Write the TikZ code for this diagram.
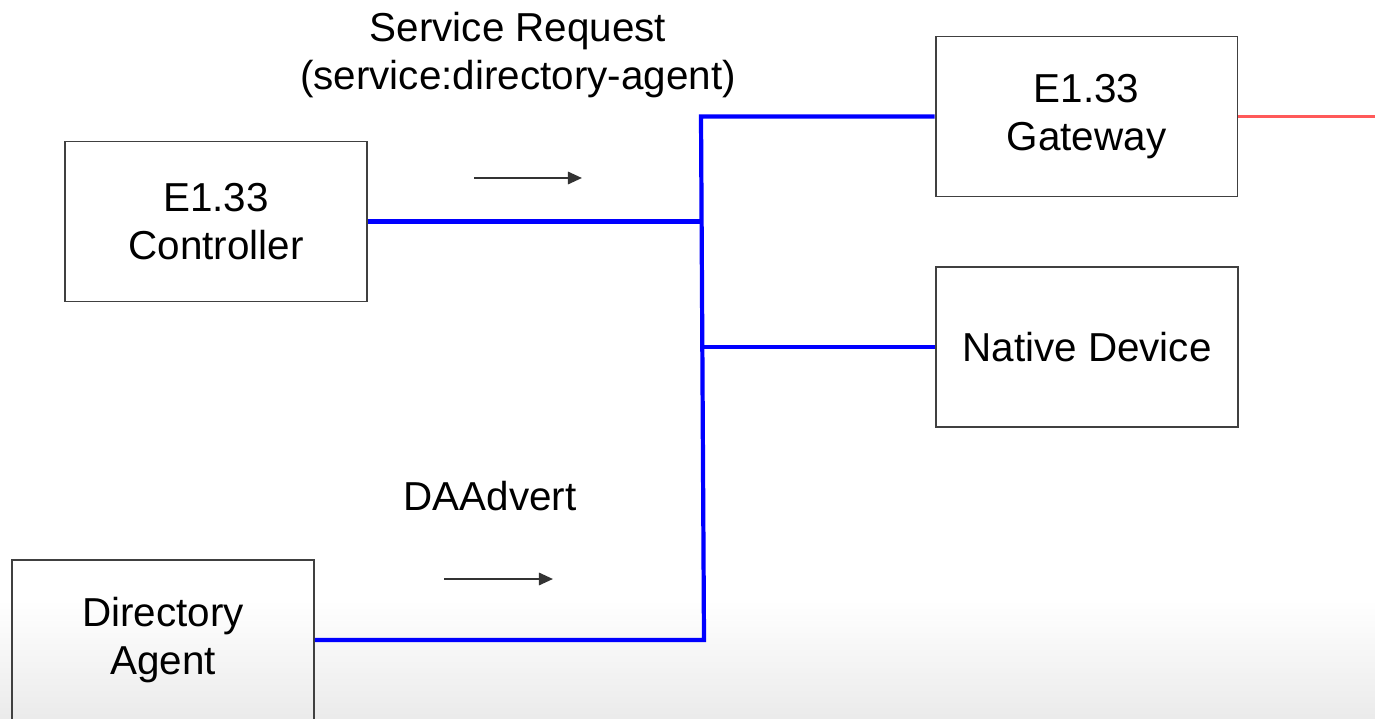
\documentclass[tikz,border=0pt]{standalone}
\usepackage{fontspec}
\setmainfont{Liberation Sans}
\usetikzlibrary{arrows.meta,positioning}

\begin{document}
\begin{tikzpicture}[
  x=0.02cm, y=-0.02cm,
  font=\fontsize{23}{27}\selectfont,
  box/.style={rectangle, draw=black!75, line width=1.1pt, align=center,
              minimum width=6.04cm, minimum height=3.2cm, inner sep=0pt},
  bus/.style={draw=blue, line width=2.4pt},
  link/.style={draw=red!65, line width=1.4pt},
  msg/.style={-{Triangle[length=8pt,width=7pt]}, line width=1.3pt, black!80},
  msgtext/.style={align=center, inner sep=0pt}
]
\useasboundingbox (0,0) rectangle (1375,719);

% Background fade
\fill[top color=white, bottom color=black!8] (0,600) rectangle (1375,719);

% Boxes
\node[box] (ctrl) at (216,221.5) {E1.33\\Controller};
\node[box] (gw) at (1086.5,116.5) {E1.33\\Gateway};
\node[box] (native) at (1087,347) {Native Device};
\node[box] (da) at (163,640) {Directory\\Agent};

% Messages
\node[msgtext] (reqtext) at (518,55) {Service Request\\(service:directory-agent)};
\node[msgtext] (advtext) at (490,496) {DAAdvert};

% Coordinates
\coordinate (bustop) at (701,116.5);
\coordinate (busbot) at (704,640);
\coordinate (offpage) at (1375,116.5);
\coordinate (req0) at (474,178);
\coordinate (req1) at (582,178);
\coordinate (adv0) at (444,579);
\coordinate (adv1) at (553,579);

% Network
\draw[bus] (gw.west) -- (bustop) -- (busbot) -- (da.east);
\draw[bus] (ctrl.east) -- (ctrl.east -| bustop);
\draw[bus] (native.west) -- (native.west -| busbot);
\draw[link] (gw.east) -- (offpage);

% Arrows
\draw[msg] (req0) -- (req1);
\draw[msg] (adv0) -- (adv1);

\end{tikzpicture}
\end{document}
